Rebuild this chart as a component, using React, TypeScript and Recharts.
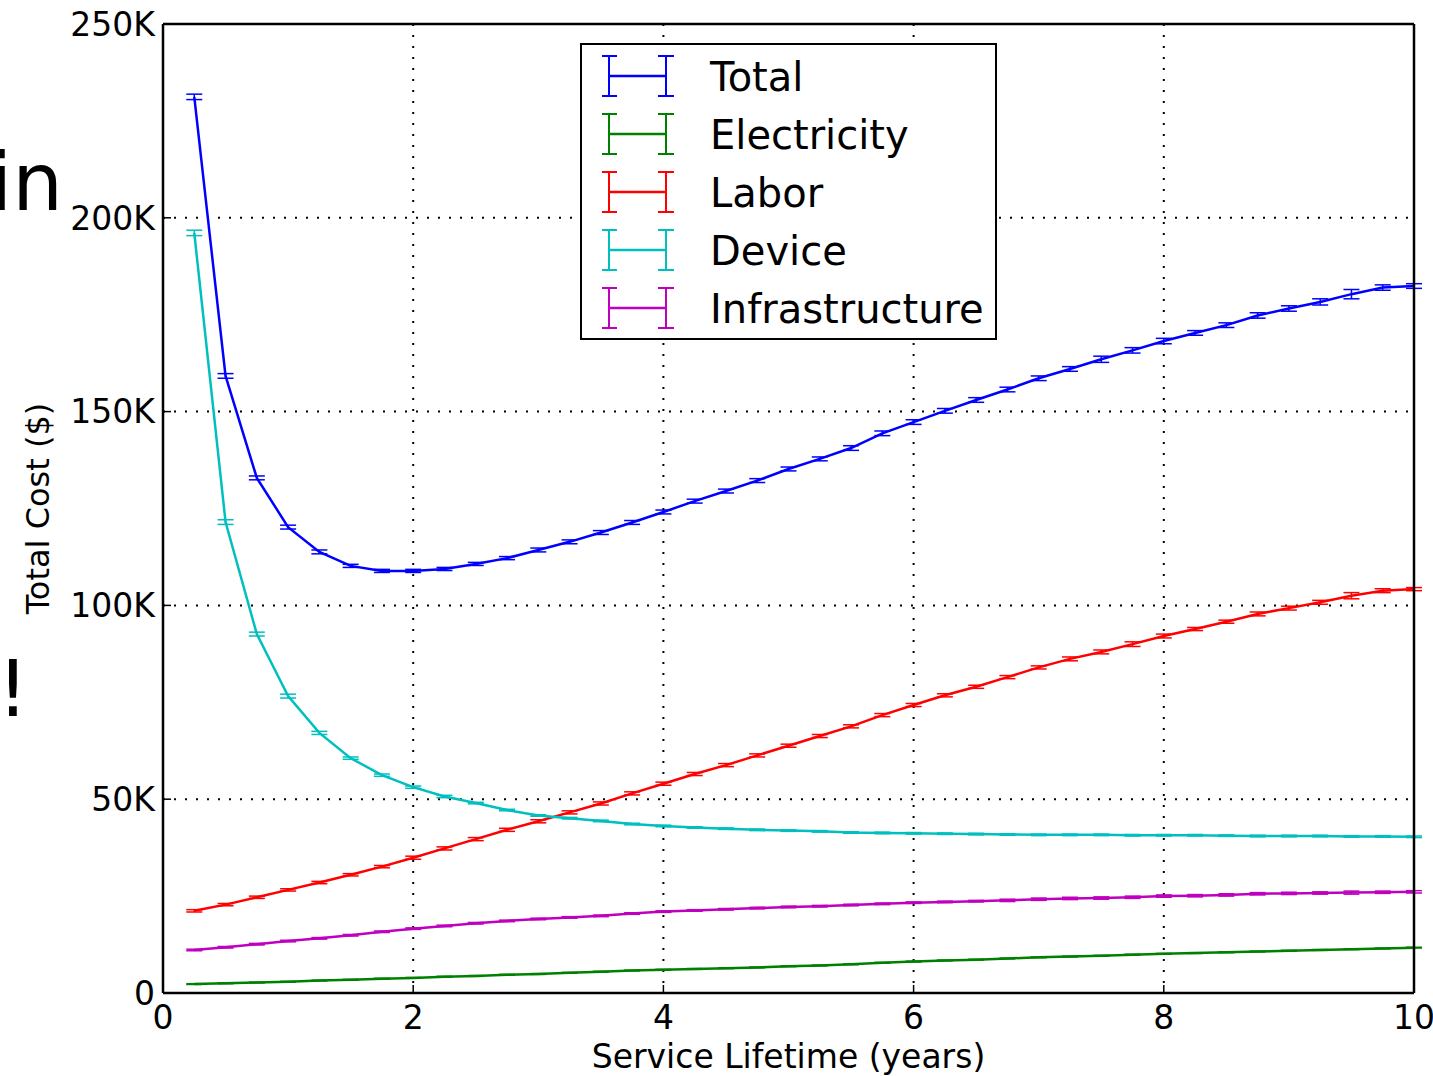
import React from "react";
import { LineChart, Line, XAxis, YAxis, CartesianGrid, ErrorBar, Legend } from "recharts";

// service lifetime in years, one sample every quarter year
const YEARS = [
  0.25, 0.5, 0.75, 1, 1.25, 1.5, 1.75, 2, 2.25, 2.5, 2.75, 3, 3.25, 3.5, 3.75, 4, 4.25, 4.5, 4.75, 5,
  5.25, 5.5, 5.75, 6, 6.25, 6.5, 6.75, 7, 7.25, 7.5, 7.75, 8, 8.25, 8.5, 8.75, 9, 9.25, 9.5, 9.75, 10,
];

// costs in thousands of dollars
const TOTAL = [
  231.2, 159.2, 132.9, 120.2, 113.8, 110.2, 108.9, 108.9, 109.4, 110.7, 112.2, 114.3, 116.4, 118.8, 121.4, 124.1, 126.9, 129.5, 132.2, 135.2,
  137.8, 140.6, 144.4, 147.3, 150.2, 153.0, 155.7, 158.6, 161.0, 163.5, 165.8, 168.2, 170.3, 172.3, 174.8, 176.6, 178.3, 180.3, 182.0, 182.4,
];
const ELECTRICITY = [
  2.3, 2.5, 2.7, 2.9, 3.2, 3.4, 3.7, 3.9, 4.2, 4.4, 4.7, 4.9, 5.2, 5.5, 5.8, 6.0, 6.2, 6.4, 6.6, 6.9,
  7.1, 7.4, 7.8, 8.1, 8.4, 8.6, 8.9, 9.2, 9.4, 9.6, 9.9, 10.1, 10.3, 10.5, 10.7, 10.9, 11.1, 11.3, 11.5, 11.7,
];
const LABOR = [
  21.2, 22.8, 24.7, 26.6, 28.5, 30.5, 32.6, 34.9, 37.3, 39.7, 42.1, 44.3, 46.6, 48.9, 51.5, 54.0, 56.5, 58.8, 61.3, 63.8,
  66.3, 68.8, 71.7, 74.3, 76.8, 79.0, 81.5, 84.0, 86.2, 88.0, 90.0, 92.1, 93.9, 95.8, 97.8, 99.3, 100.8, 102.5, 103.8, 104.2,
];
const DEVICE = [
  196.1, 121.5, 92.6, 76.6, 67.1, 60.6, 56.2, 53.1, 50.7, 49.0, 47.2, 45.8, 45.1, 44.4, 43.6, 43.1, 42.7, 42.4, 42.1, 41.9,
  41.7, 41.4, 41.3, 41.2, 41.1, 41.0, 40.9, 40.8, 40.8, 40.8, 40.7, 40.7, 40.7, 40.6, 40.5, 40.5, 40.5, 40.4, 40.4, 40.3,
];
const INFRASTRUCTURE = [
  11.1, 11.8, 12.6, 13.4, 14.1, 14.9, 15.8, 16.6, 17.3, 18.0, 18.6, 19.1, 19.5, 19.9, 20.5, 21.0, 21.3, 21.6, 21.9, 22.2,
  22.4, 22.7, 23.0, 23.3, 23.5, 23.7, 23.9, 24.2, 24.4, 24.5, 24.7, 25.0, 25.1, 25.3, 25.6, 25.7, 25.8, 25.9, 26.0, 26.1,
];

// half-height of the error bars, thousands of dollars
const TOTAL_ERR = [
  0.7, 0.6, 0.5, 0.5, 0.5, 0.4, 0.4, 0.4, 0.4, 0.4, 0.4, 0.5, 0.5, 0.5, 0.5, 0.5, 0.5, 0.5, 0.5, 0.5,
  0.5, 0.6, 0.6, 0.6, 0.6, 0.6, 0.6, 0.6, 0.6, 0.8, 0.7, 0.7, 0.6, 0.6, 0.7, 0.7, 0.8, 1.2, 0.7, 0.6,
];
const ELECTRICITY_ERR = [
  0.1, 0.1, 0.1, 0.1, 0.1, 0.1, 0.1, 0.1, 0.1, 0.1, 0.1, 0.1, 0.1, 0.1, 0.1, 0.1, 0.1, 0.1, 0.1, 0.1,
  0.1, 0.1, 0.1, 0.1, 0.1, 0.1, 0.1, 0.1, 0.1, 0.1, 0.1, 0.1, 0.1, 0.1, 0.1, 0.1, 0.1, 0.1, 0.1, 0.1,
];
const LABOR_ERR = [
  0.3, 0.3, 0.3, 0.3, 0.3, 0.3, 0.3, 0.4, 0.4, 0.4, 0.4, 0.4, 0.4, 0.4, 0.4, 0.4, 0.4, 0.4, 0.4, 0.4,
  0.4, 0.4, 0.4, 0.4, 0.4, 0.4, 0.4, 0.4, 0.5, 0.5, 0.6, 0.5, 0.4, 0.4, 0.5, 0.5, 0.5, 0.8, 0.5, 0.4,
];
const DEVICE_ERR = [
  0.7, 0.6, 0.5, 0.5, 0.4, 0.3, 0.3, 0.3, 0.3, 0.2, 0.2, 0.2, 0.2, 0.2, 0.2, 0.2, 0.2, 0.2, 0.2, 0.2,
  0.2, 0.2, 0.2, 0.2, 0.2, 0.2, 0.2, 0.2, 0.2, 0.2, 0.2, 0.2, 0.2, 0.2, 0.2, 0.2, 0.2, 0.2, 0.2, 0.2,
];
const INFRASTRUCTURE_ERR = [
  0.2, 0.2, 0.2, 0.2, 0.2, 0.2, 0.2, 0.2, 0.2, 0.2, 0.2, 0.2, 0.2, 0.2, 0.2, 0.2, 0.2, 0.2, 0.2, 0.2,
  0.2, 0.2, 0.2, 0.2, 0.2, 0.2, 0.3, 0.3, 0.3, 0.3, 0.3, 0.3, 0.3, 0.3, 0.3, 0.3, 0.3, 0.4, 0.3, 0.3,
];

const X_TICKS = [0, 2, 4, 6, 8, 10];
const Y_TICKS = [0, 50, 100, 150, 200, 250];

const SERIES = [
  { key: "total", name: "Total", color: "#0000ff", values: TOTAL, err: TOTAL_ERR },
  { key: "electricity", name: "Electricity", color: "#008000", values: ELECTRICITY, err: ELECTRICITY_ERR },
  { key: "labor", name: "Labor", color: "#ff0000", values: LABOR, err: LABOR_ERR },
  { key: "device", name: "Device", color: "#00bfbf", values: DEVICE, err: DEVICE_ERR },
  { key: "infrastructure", name: "Infrastructure", color: "#bf00bf", values: INFRASTRUCTURE, err: INFRASTRUCTURE_ERR },
];

const data = YEARS.map((x, i) => {
  const row: Record<string, number> = { x };
  SERIES.forEach((s) => {
    row[s.key] = s.values[i];
    row[s.key + "Err"] = s.err[i];
  });
  return row;
});

const FONT = "'DejaVu Sans', Verdana, sans-serif";
const tickStyle = { fill: "#000", fontSize: 33, fontFamily: FONT };

function LegendBox() {
  return (
    <svg width={418} height={298} style={{ display: "block" }}>
      <rect x={1} y={1} width={415} height={295} fill="#fff" stroke="#000" strokeWidth={2} />
      {SERIES.map((s, i) => {
        const cy = 33 + i * 58;
        return (
          <g key={s.key} stroke={s.color} strokeWidth={2}>
            <line x1={29} x2={86} y1={cy} y2={cy} strokeWidth={2.5} />
            <line x1={29} x2={29} y1={cy - 20} y2={cy + 20} />
            <line x1={22} x2={37} y1={cy - 20} y2={cy - 20} />
            <line x1={22} x2={37} y1={cy + 20} y2={cy + 20} />
            <line x1={86} x2={86} y1={cy - 20} y2={cy + 20} />
            <line x1={78} x2={94} y1={cy - 20} y2={cy - 20} />
            <line x1={78} x2={94} y1={cy + 20} y2={cy + 20} />
            <text x={130} y={cy + 14.5} fontSize={40} fontFamily={FONT} fill="#000" stroke="none">
              {s.name}
            </text>
          </g>
        );
      })}
    </svg>
  );
}

export default function App() {
  return (
    <div style={{ position: "absolute", left: 0, top: 0, width: 1433, height: 1076, background: "#fff" }}>
      <LineChart width={1433} height={1076} data={data} margin={{ top: 0, right: 0, bottom: 0, left: 0 }}>
        <CartesianGrid
          xAxisId="bottom"
          yAxisId="left"
          stroke="#000"
          strokeWidth={2}
          strokeDasharray="2 9"
        />
        <XAxis
          xAxisId="bottom"
          dataKey="x"
          type="number"
          domain={[0, 10]}
          ticks={X_TICKS}
          height={83}
          axisLine={{ stroke: "#000", strokeWidth: 2.5 }}
          tickLine={{ stroke: "#000", strokeWidth: 1.5 }}
          tickSize={-8}
          tickMargin={21}
          tick={tickStyle}
          label={{
            value: "Service Lifetime (years)",
            position: "insideBottom",
            offset: 8,
            style: { fill: "#000", fontSize: 33, fontFamily: FONT },
          }}
        />
        <XAxis
          xAxisId="top"
          orientation="top"
          dataKey="x"
          type="number"
          domain={[0, 10]}
          ticks={X_TICKS}
          height={24}
          axisLine={{ stroke: "#000", strokeWidth: 2.5 }}
          tickLine={{ stroke: "#000", strokeWidth: 1.5 }}
          tickSize={-8}
          tick={false}
        />
        <YAxis
          yAxisId="left"
          type="number"
          domain={[0, 250]}
          ticks={Y_TICKS}
          width={163}
          axisLine={{ stroke: "#000", strokeWidth: 2.5 }}
          tickLine={{ stroke: "#000", strokeWidth: 1.5 }}
          tickSize={-8}
          tickMargin={16}
          tick={tickStyle}
          tickFormatter={(v: number) => (v === 0 ? "0" : `${v}K`)}
          label={{
            value: "Total Cost ($)",
            angle: -90,
            position: "insideLeft",
            offset: 38,
            style: { fill: "#000", fontSize: 32, fontFamily: FONT, textAnchor: "middle" },
          }}
        />
        <YAxis
          yAxisId="right"
          orientation="right"
          type="number"
          domain={[0, 250]}
          ticks={Y_TICKS}
          width={19}
          axisLine={{ stroke: "#000", strokeWidth: 2.5 }}
          tickLine={{ stroke: "#000", strokeWidth: 1.5 }}
          tickSize={-8}
          tick={false}
        />
        {SERIES.map((s) => (
          <Line
            key={s.key}
            xAxisId="bottom"
            yAxisId="left"
            type="linear"
            dataKey={s.key}
            name={s.name}
            stroke={s.color}
            strokeWidth={2.5}
            dot={false}
            activeDot={false}
            isAnimationActive={false}
          >
            <ErrorBar
              dataKey={s.key + "Err"}
              direction="y"
              width={8}
              stroke={s.color}
              strokeWidth={1.5}
              isAnimationActive={false}
            />
          </Line>
        ))}
        <Legend
          layout="vertical"
          align="center"
          verticalAlign="middle"
          content={() => <LegendBox />}
          wrapperStyle={{ left: 580, top: 43, width: 418, height: 298 }}
        />
      </LineChart>
      <svg
        width={1433}
        height={1076}
        style={{ position: "absolute", left: 0, top: 0, pointerEvents: "none" }}
      >
        <text x={63} y={210} textAnchor="end" fontSize={80} fontFamily={FONT} fill="#000">
          in
        </text>
        <text x={13} y={716} textAnchor="middle" fontSize={78} fontFamily={FONT} fill="#000">
          !
        </text>
      </svg>
    </div>
  );
}
